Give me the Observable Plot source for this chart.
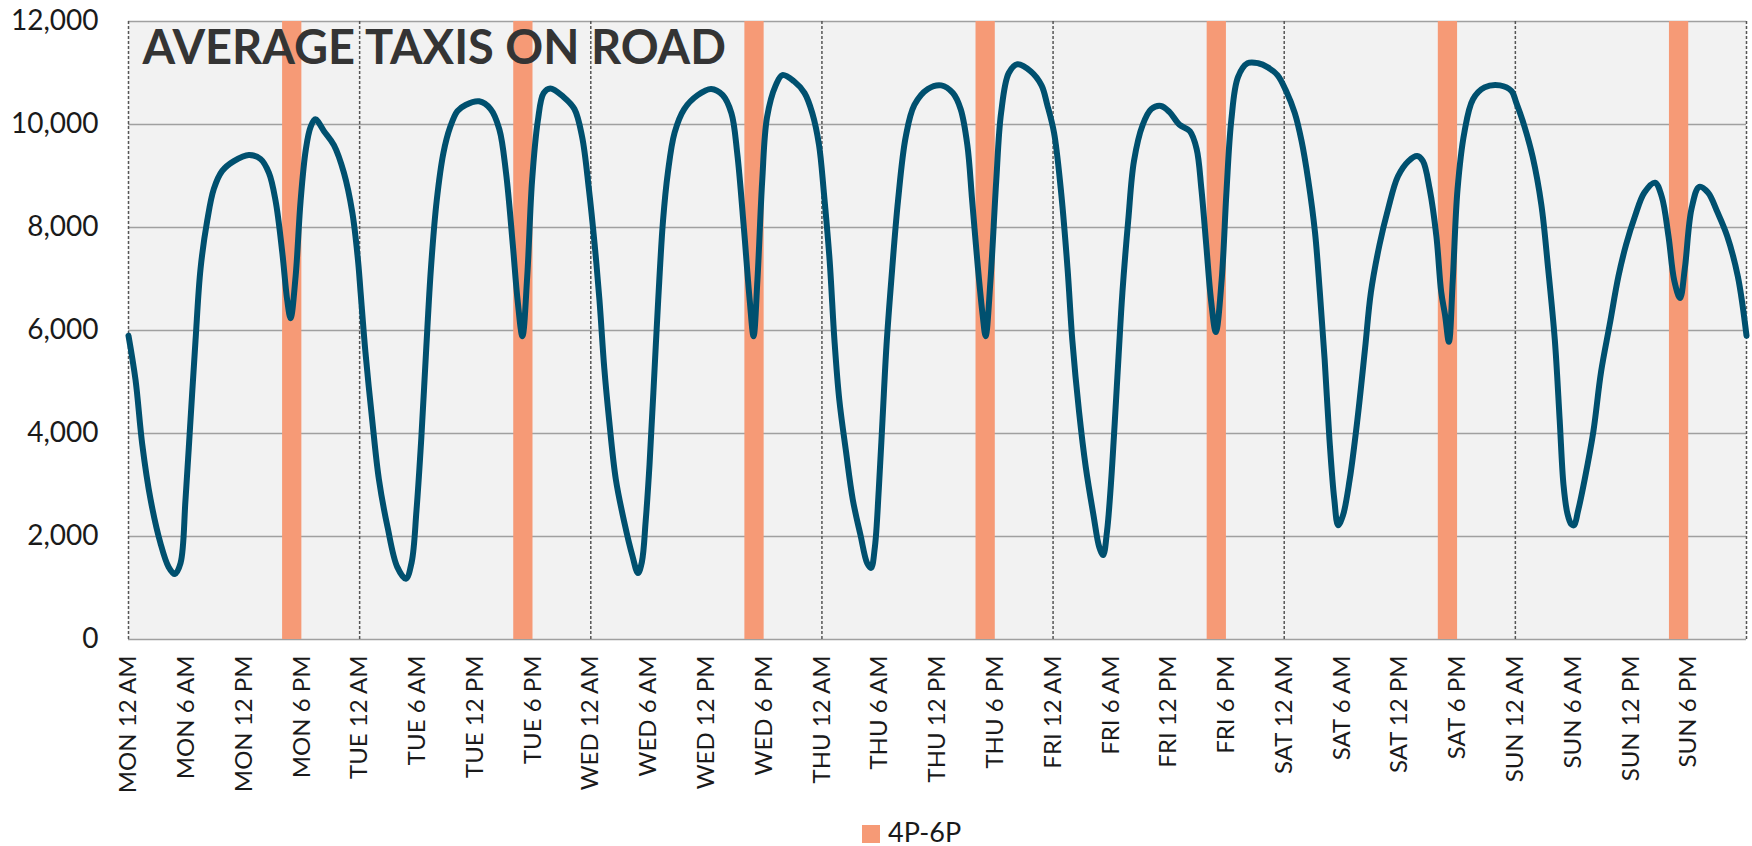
<!DOCTYPE html>
<html>
<head>
<meta charset="utf-8">
<script src="https://cdn.jsdelivr.net/npm/d3@7"></script>
<script src="https://cdn.jsdelivr.net/npm/@observablehq/plot@0.6"></script>
<style>
  html, body { margin: 0; padding: 0; background: #ffffff; overflow: hidden; }
  #wrap { position: relative; width: 1752px; height: 846px; font-family: Lato, "Open Sans", sans-serif; }
  #legend { position: absolute; left: 0; top: 815px; width: 1752px; height: 31px; }
  #legend .sw { position: absolute; left: 862px; top: 10px; width: 18px; height: 18px; background: #f69a76; }
  #legend .lb { position: absolute; left: 888px; top: 3px; font-size: 27px; line-height: 27px; color: #1a1a1a; white-space: nowrap; }
</style>
</head>
<body>
<div id="wrap"><div id="chart"></div><div id="legend"><span class="sw"></span><span class="lb">4P-6P</span></div></div>
<script>
const title = "AVERAGE TAXIS ON ROAD";
const legendLabel = "4P-6P";

// hours since Monday 12 AM
const hours = [
  0, 0.73, 1.42, 2.29, 3.32, 4.16, 4.81, 5.40, 5.92, 6.44, 6.96, 7.48, 8.17, 8.86, 9.73, 10.94, 12.5, 13.71, 14.58, 15.27, 15.97, 16.48, 16.83, 17.35, 17.87, 18.4, 18.9, 19.4, 20.3, 21.33, 22.37, 23.24, 23.83,
  24.1, 24.6, 25.3, 26.0, 26.9, 27.9, 28.8, 29.4, 29.9, 30.4, 30.9, 31.4, 32.0, 32.7, 33.4, 34.15, 35.0, 36.4, 37.6, 38.5, 39.2, 39.9, 40.4, 40.9, 41.4, 41.9, 42.5, 43.1, 43.8, 45.2, 46.3, 47.1, 47.8,
  48.4, 48.9, 49.4, 49.9, 50.6, 51.5, 52.3, 52.9, 53.3, 53.7, 54.1, 54.5, 55.0, 55.5, 56.0, 56.7, 57.7, 59.1, 60.5, 61.7, 62.6, 63.2, 63.9, 64.5, 64.9, 65.3, 65.8, 66.3, 67.2, 67.9, 69.1, 70.2, 71.0, 71.7,
  72.2, 72.8, 73.3, 73.8, 74.5, 75.2, 76.0, 76.7, 77.1, 77.5, 77.9, 78.3, 78.7, 79.2, 79.9, 80.7, 81.6, 83.0, 84.4, 85.6, 86.4, 87.1, 87.6, 88.2, 88.7, 89.0, 89.5, 90.1, 90.6, 91.4, 92.3, 93.7, 94.8, 95.4,
  96.1, 96.8, 97.5, 98.0, 98.7, 99.4, 100.2, 100.8, 101.2, 101.6, 102.0, 102.4, 102.8, 103.2, 103.8, 104.4, 105.3, 106.2, 107.2, 108.1, 109.1, 110.2, 110.9, 111.4, 111.9, 112.4, 112.9, 113.5, 114.0, 114.5, 115.2, 116.2, 117.3, 118.3, 119.3,
  120.2, 121.1, 121.8, 122.5, 123.2, 123.7, 124.2, 124.7, 125.2, 125.6, 126.1, 126.8, 127.6, 128.4, 129.0, 129.9, 130.8, 131.8, 132.9, 133.8, 134.4, 135.1, 135.8, 136.3, 136.7, 137.1, 137.5, 138.0, 138.7, 139.6, 140.8, 142.4, 143.6,
  144.1, 144.9, 145.8, 146.7, 147.4, 148.1, 148.6, 149.0, 149.4, 149.8, 150.1, 150.5, 151.2, 152.1, 152.9, 153.8, 154.7, 155.5, 156.4, 157.4, 158.5, 159.2, 159.9, 160.5, 161.1, 161.6, 162.3, 163.1, 164.0, 165.0, 166.0, 167.1, 168
];
// average taxis on road
const taxis = [
  5900, 5040, 3800, 2720, 1870, 1410, 1270, 1480, 2720, 4270, 5810, 7200, 8130, 8750, 9100, 9290, 9410, 9330, 9060, 8520, 7510, 6590, 6240, 7050, 8520, 9500, 9950, 10100, 9870, 9600, 9060, 8290, 7360,
  6740, 5580, 4270, 3110, 2180, 1410, 1180, 1500, 2500, 3900, 5600, 7200, 8520, 9450, 9950, 10260, 10380, 10450, 10300, 9910, 9060, 7670, 6590, 5890, 7050, 8900, 10070, 10610, 10700, 10530, 10300, 9760, 8750,
  7670, 6590, 5270, 4270, 3110, 2260, 1640, 1290, 1500, 2300, 3400, 4800, 6590, 8130, 9060, 9840, 10300, 10570, 10690, 10570, 10220, 9450, 7980, 6590, 5890, 6970, 8910, 10140, 10760, 10960, 10840, 10610, 10220, 9600,
  8680, 7360, 5810, 4660, 3650, 2720, 2030, 1480, 1390, 1800, 2900, 4300, 5700, 6970, 8520, 9760, 10380, 10690, 10760, 10610, 10300, 9600, 8520, 7210, 6280, 5890, 6970, 8910, 10220, 11000, 11170, 11030, 10760, 10380,
  9840, 8750, 7210, 5810, 4420, 3340, 2410, 1790, 1640, 2100, 3000, 4200, 5500, 6740, 8130, 9290, 9990, 10300, 10360, 10240, 10000, 9870, 9530, 8750, 7670, 6590, 5970, 6970, 8680, 10070, 10920, 11190, 11190, 11110, 10960,
  10650, 10220, 9680, 8910, 7900, 6740, 5430, 3880, 2720, 2220, 2410, 3110, 4270, 5660, 6740, 7670, 8370, 8990, 9290, 9390, 9290, 8750, 7830, 6750, 6300, 5780, 6970, 8750, 9840, 10490, 10720, 10760, 10650,
  10420, 9990, 9370, 8440, 7210, 5810, 4270, 3000, 2450, 2240, 2220, 2490, 3110, 4040, 5200, 6120, 7050, 7670, 8210, 8680, 8870, 8600, 7830, 6970, 6630, 7210, 8370, 8790, 8680, 8290, 7830, 7050, 5900
];

const tickHours = [0, 6, 12, 18, 24, 30, 36, 42, 48, 54, 60, 66, 72, 78, 84, 90, 96, 102, 108, 114, 120, 126, 132, 138, 144, 150, 156, 162];
const tickLabels = [
  "MON 12 AM", "MON 6 AM", "MON 12 PM", "MON 6 PM",
  "TUE 12 AM", "TUE 6 AM", "TUE 12 PM", "TUE 6 PM",
  "WED 12 AM", "WED 6 AM", "WED 12 PM", "WED 6 PM",
  "THU 12 AM", "THU 6 AM", "THU 12 PM", "THU 6 PM",
  "FRI 12 AM", "FRI 6 AM", "FRI 12 PM", "FRI 6 PM",
  "SAT 12 AM", "SAT 6 AM", "SAT 12 PM", "SAT 6 PM",
  "SUN 12 AM", "SUN 6 AM", "SUN 12 PM", "SUN 6 PM"
];
const dayBoundaries = [0, 24, 48, 72, 96, 120, 144, 168];
const rushStart = [16, 40, 64, 88, 112, 136, 160];
const rushEnd = [18, 42, 66, 90, 114, 138, 162];
const yTicks = [0, 2000, 4000, 6000, 8000, 10000, 12000];

const series = hours.map((h, i) => ({h, v: taxis[i]}));
const rush = rushStart.map((s, i) => ({start: s, end: rushEnd[i]}));
const labelByHour = new Map(tickHours.map((h, i) => [h, tickLabels[i]]));

document.querySelector("#legend .lb").textContent = legendLabel;

const chart = Plot.plot({
  width: 1752,
  height: 815,
  marginLeft: 128,
  marginRight: 6,
  marginTop: 21,
  marginBottom: 176,
  style: {fontFamily: "Lato, 'Open Sans', sans-serif", background: "#ffffff", color: "#1a1a1a"},
  x: {domain: [0, 168]},
  y: {domain: [0, 12000]},
  marks: [
    Plot.frame({fill: "#f2f2f2", stroke: null}),
    Plot.ruleY(yTicks, {stroke: "#a0a0a0", strokeWidth: 1.5}),
    Plot.ruleX(dayBoundaries, {stroke: "#555555", strokeWidth: 1.5, strokeDasharray: "3,2"}),
    Plot.rect(rush, {x1: "start", x2: "end", fill: "#f69a76"}),
    Plot.line(series, {x: "h", y: "v", stroke: "#00506f", strokeWidth: 6, curve: "catmull-rom", strokeLinejoin: "round", strokeLinecap: "round"}),
    Plot.text([title], {frameAnchor: "top-left", dx: 14, dy: 9, fontSize: 47, fontWeight: "bold", fill: "#343434"}),
    Plot.axisX({ticks: tickHours, tickFormat: d => labelByHour.get(d), tickRotate: -90, tickSize: 0, tickPadding: 16, fontSize: 24, label: null}),
    Plot.axisY({ticks: yTicks, tickFormat: d3.format(","), tickSize: 0, tickPadding: 30, fontSize: 28, label: null})
  ]
});
document.getElementById("chart").appendChild(chart);
</script>
</body>
</html>
